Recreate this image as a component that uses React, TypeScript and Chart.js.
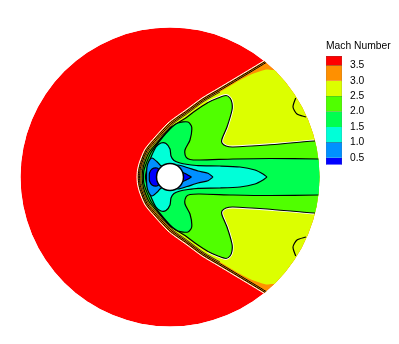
import React, { useEffect, useRef } from "react";
import { Chart, registerables } from "chart.js";

Chart.register(...registerables);

type P = [number, number];
const AXIS_Y = 177;

// Contours: upper half traced from the wake towards the nose; the lower half is its reflection.
const shockEdge: P[] = [[360,0],[300,38],[262,62],[233,79.5],[218,88.5],[202,98],[185,110.5],[175,117.5],[168,123],[155,137],[145,149],[139.5,162],[137.5,170],[137,177]];
const line35: P[] = [[360.7,1],[300.7,39.1],[262.7,63.1],[233.7,80.6],[218.7,89.6],[202.7,99.1],[185.8,111.6],[175.8,118.5],[168.8,124],[155.9,137.9],[146.1,149.7],[140.7,162.5],[138.8,170.2],[138.3,177]];
const line30: P[] = [[361.4,2],[301.4,40.2],[263.4,64.2],[234.4,81.7],[219.4,90.7],[203.4,100.2],[186.5,112.6],[176.6,119.6],[169.7,125],[156.9,138.8],[147.1,150.5],[141.9,162.9],[140,170.4],[139.6,177]];
const yellowEdge: P[] = [[350,60],[273,70],[266,69.5],[250,75],[235,83],[220,92],[204.1,101.2],[187.3,113.6],[177.3,120.6],[170.5,126],[157.8,139.7],[148.2,151.2],[143.1,163.4],[141.3,170.6],[140.9,177]];
const contour25: P[] = [[345,140],[314,141],[267,145],[233,147],[226,146],[222,143],[222,139],[227,127],[232,110],[232,103],[230,98],[226,95.5],[218,98],[208,102.5],[195,111],[185,118.5],[175,124.5],[170,128],[158.5,141],[149.3,152],[144.2,163.8],[142.6,170.8],[142.2,177]];
const contour20: P[] = [[345,159],[318,159],[270,158.5],[233,159],[200,160],[190,159.5],[186,157],[185,150],[190,140],[191.7,127],[188,122],[178,123],[170,129],[160,140.5],[151,152.5],[146,164],[143.8,171],[143.5,177]];
const contour15: P[] = [[267,177],[263,174],[255,170],[240,167],[220,166],[198,165.7],[188,164.5],[180,163],[174,160.5],[171,156],[170,149],[166,143.5],[161,143],[156,147],[151.5,156],[148,165],[145.5,177]];
const contour10: P[] = [[213,177],[208,173.2],[198,171],[187,167.5],[178,165],[172,168],[165,168],[160,165],[157,161.7],[152,158],[149,161],[147,167],[146.5,177]];
const contour05: P[] = [[191.5,177],[187,174.5],[181,171.7],[172,170],[160,170],[157,168],[152,169],[149.5,173],[149.3,177]];
const wallLoop: P[] = [[306,117],[297,114],[293,107],[295.7,98]];

const BLACK = "#000000";
const colours = { red: "#ff0000", orange: "#ff9000", yellow: "#dcff00", green: "#50ff00", spring: "#00ff50", cyan: "#00ffd8", blue: "#0090ff", deep: "#0000ff" };

// Colour key
const keyTicks = [0.5, 1.0, 1.5, 2.0, 2.5, 3.0, 3.5];
const keyBands: [number, number, string][] = [
  [3.5, 3.8, colours.red], [3.0, 3.5, colours.orange], [2.5, 3.0, colours.yellow], [2.0, 2.5, colours.green],
  [1.5, 2.0, colours.spring], [1.0, 1.5, colours.cyan], [0.5, 1.0, colours.blue], [0.27, 0.5, colours.deep],
];

const discCentre = { x: 170, y: 177 };
const discRadius = 149.5;
const bodyRadius = 13.5;

const closed = (half: P[]) => {
  const lower = [...half].reverse().slice(half[half.length - 1][1] === AXIS_Y ? 1 : 0).map(([x, y]) => ({ x, y: 2 * AXIS_Y - y }));
  return [...half.map(([x, y]) => ({ x, y })), ...lower];
};
const open = (half: P[]) => half.map(([x, y]) => ({ x, y }));

const contourSet = (half: P[], fill: string, width = 1.2) => ({
  data: closed(half), showLine: true, fill: "shape" as const, backgroundColor: fill,
  borderColor: BLACK, borderWidth: width, pointRadius: 0, tension: 0.25, borderJoinStyle: "round" as const,
});
const bareLine = (half: P[], colour: string, width: number, both = true) => ({
  data: both ? closed(half) : open(half), showLine: true, fill: false, borderColor: colour, borderWidth: width, pointRadius: 0, tension: 0.25,
});
const mirrored = (half: P[]) => half.map(([x, y]) => [x, 2 * AXIS_Y - y] as P);

const clipToDisc = {
  id: "clipToDisc",
  beforeDatasetsDraw(chart: Chart) {
    const { ctx, scales } = chart;
    ctx.save();
    ctx.beginPath();
    ctx.arc(scales.x.getPixelForValue(discCentre.x), scales.y.getPixelForValue(discCentre.y), discRadius, 0, Math.PI * 2);
    ctx.clip();
  },
  afterDatasetsDraw(chart: Chart) {
    chart.ctx.restore();
  },
};

export default function App() {
  const field = useRef<HTMLCanvasElement>(null);
  const key = useRef<HTMLCanvasElement>(null);

  useEffect(() => {
    document.body.style.margin = "0";
    const lobe = contour25.slice(1, 14);
    const closeOnAxis = (d: any) => ({ ...d, data: [...d.data, d.data[0]] });
    const layers: any[] = [
      { data: [discCentre], pointRadius: discRadius, pointBackgroundColor: colours.red, pointBorderWidth: 0, showLine: false },
      contourSet(shockEdge, colours.orange, 0),
      bareLine(shockEdge, "#ffffff", 1),
      bareLine(line35, BLACK, 1),
      bareLine(line30, BLACK, 1),
      contourSet(yellowEdge, colours.yellow, 0),
      bareLine(yellowEdge.slice(5), "#222222", 0.9),
      bareLine(lobe, "#ffffff", 2.8, false),
      bareLine(mirrored(lobe), "#ffffff", 2.8, false),
      contourSet(contour25, colours.green),
      bareLine(wallLoop, BLACK, 1.2, false),
      bareLine(mirrored(wallLoop), BLACK, 1.2, false),
      contourSet(contour20, colours.spring),
      closeOnAxis(contourSet(contour15, colours.cyan)),
      closeOnAxis(contourSet(contour10, colours.blue)),
      closeOnAxis(contourSet(contour05, colours.deep)),
      { data: [discCentre], pointRadius: bodyRadius, pointBackgroundColor: "#ffffff", pointBorderColor: BLACK, pointBorderWidth: 1.5, showLine: false },
    ];
    layers.forEach((l, i) => { l.order = layers.length - i; });

    const main = new Chart(field.current!, {
      type: "scatter",
      data: { datasets: layers },
      options: {
        animation: false, responsive: false, events: [],
        layout: { padding: 0, autoPadding: false },
        plugins: { legend: { display: false }, tooltip: { enabled: false }, title: { display: false } },
        scales: {
          x: { type: "linear", min: 0, max: 399, display: false },
          y: { type: "linear", min: 0, max: 344, reverse: true, display: false },
        },
      },
      plugins: [clipToDisc],
    });

    const legendChart = new Chart(key.current!, {
      type: "bar",
      data: {
        labels: ["Mach Number"],
        datasets: keyBands.map(([lo, hi, c]) => ({ data: [[lo, hi]], backgroundColor: c, borderColor: "#555555", borderWidth: 0.5, barPercentage: 1, categoryPercentage: 1 })) as any,
      },
      options: {
        animation: false, responsive: false, events: [],
        layout: { padding: { left: 6, right: 0, top: 0, bottom: 0 }, autoPadding: false },
        plugins: {
          legend: { display: false }, tooltip: { enabled: false },
          title: { display: true, text: "Mach Number", align: "start", color: "#000000", font: { family: "Liberation Sans", size: 10.3, weight: "normal" }, padding: { top: 5, bottom: 3.7 } },
        },
        scales: {
          x: { stacked: true, display: false },
          y: {
            position: "right", min: 0.27, max: 3.8,
            afterFit: (s: any) => { s.width = 57; },
            afterBuildTicks: (s: any) => { s.ticks = keyTicks.map((value) => ({ value })); },
            grid: { display: false, drawTicks: false }, border: { display: false },
            ticks: { color: "#000000", padding: 8, font: { family: "Liberation Sans", size: 10.3 }, callback: (v: any) => Number(v).toFixed(1) },
          },
        },
      },
    });

    return () => { main.destroy(); legendChart.destroy(); };
  }, []);

  return (
    <div style={{ position: "relative", width: 399, height: 344, overflow: "hidden" }}>
      <canvas ref={field} width={399} height={344} style={{ position: "absolute", left: 0, top: 0 }} />
      <canvas ref={key} width={79} height={144} style={{ position: "absolute", left: 320, top: 35 }} />
    </div>
  );
}
